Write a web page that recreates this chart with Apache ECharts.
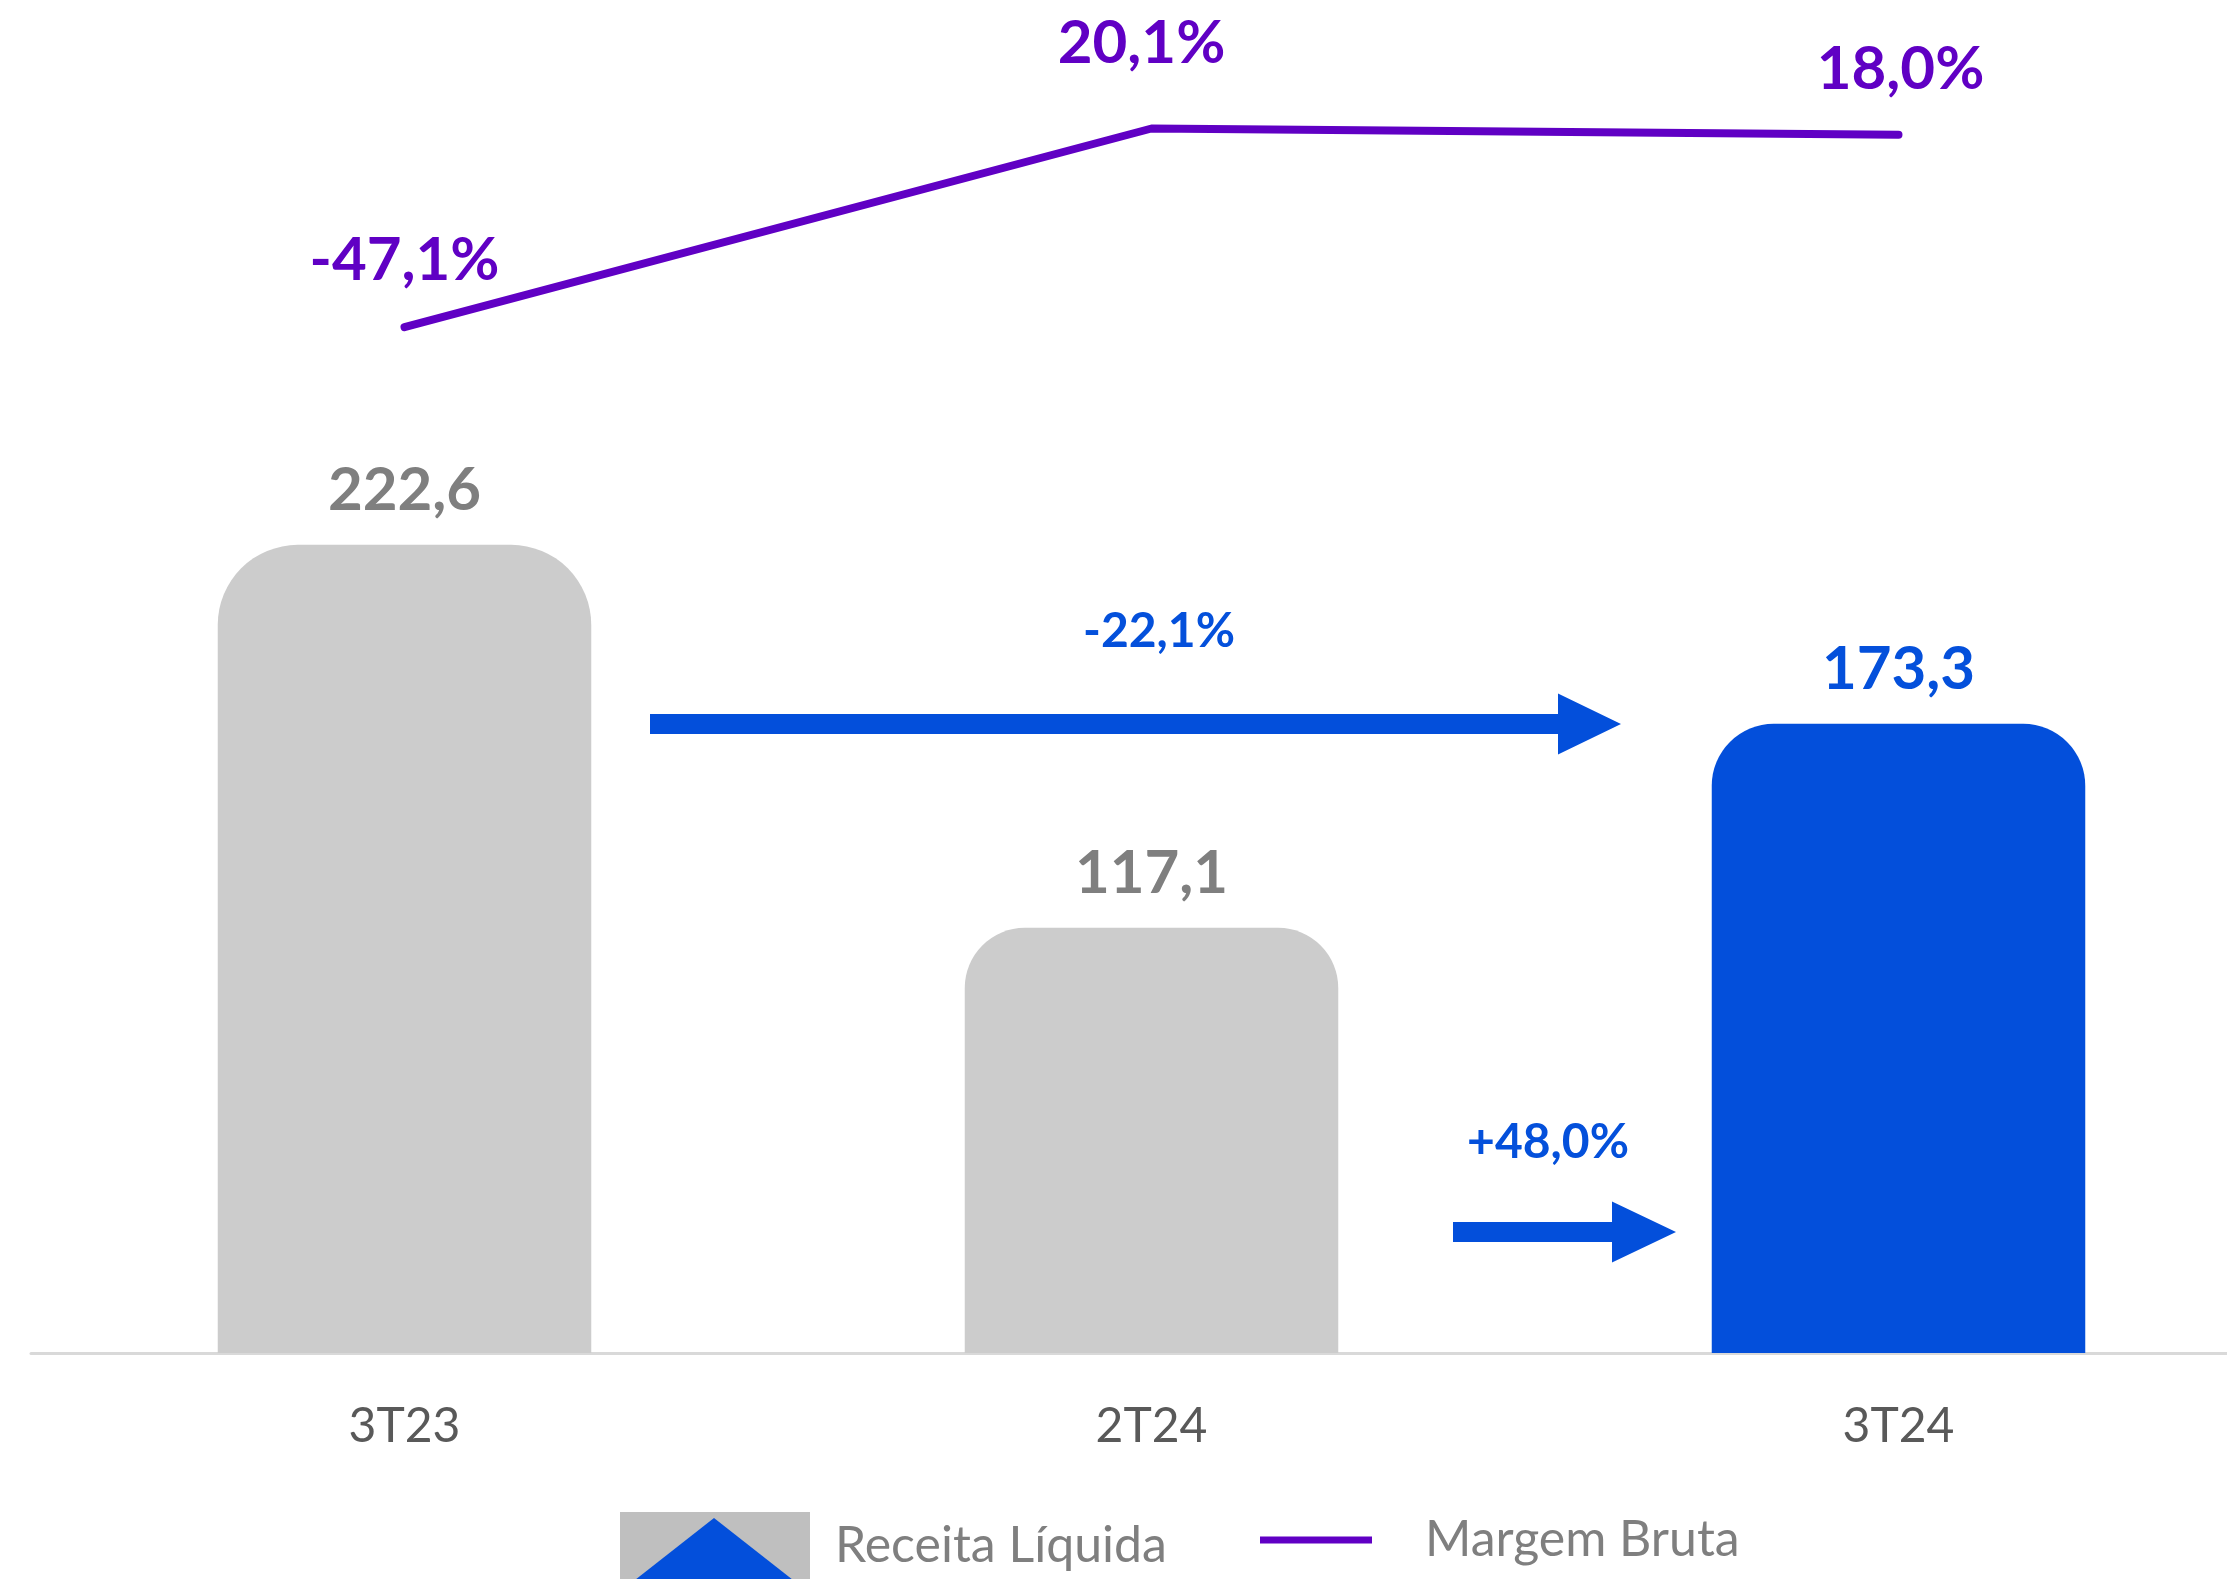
<!DOCTYPE html>
<html>
<head>
<meta charset="utf-8">
<title>Receita Líquida x Margem Bruta</title>
<script src="https://cdn.jsdelivr.net/npm/echarts@6/dist/echarts.min.js"></script>
<style>
  html, body { margin: 0; padding: 0; background: #fff; overflow: hidden; }
  /* a terceira categoria fica cortada na borda direita, como no original */
  #chart { width: 2272px; height: 1579px; }
</style>
</head>
<body>
<div id="chart"></div>
<script>
// dados do gráfico
const categories = ['3T23', '2T24', '3T24']
const receitaLiquida = [222.6, 117.1, 173.3]
const margemBruta = [-47.1, 20.1, 18.0]
const variacoes = ['-22,1%', '+48,0%']

const GRAY = '#CCCCCC'
const BLUE = '#034FDB'
const PURPLE = '#6000C4'
const FONT = 'Lato'

const fmt = v => v.toFixed(1).replace('.', ',')

// estilo por barra (ultima em azul)
const barColors = [GRAY, GRAY, BLUE]
const barRadius = [80, 60, 62]
const barLabelColors = ['#7F7F7F', '#7F7F7F', '#0450DB']

// posicao dos rotulos da linha
const lineLabelDistance = [36, 54, 34]
const lineLabelOffsetX = [0, -10, 2]

// seta horizontal (anotacao)
function arrow(x0, x1, yc, shaft, headLen, headH) {
  const h = shaft / 2
  const hh = headH / 2
  return [
    [x0, yc - h], [x1 - headLen, yc - h], [x1 - headLen, yc - hh],
    [x1, yc], [x1 - headLen, yc + hh], [x1 - headLen, yc + h], [x0, yc + h]
  ]
}

const chart = echarts.init(document.getElementById('chart'))

chart.setOption({
  animation: false,
  backgroundColor: '#fff',
  grid: {
    left: 31,
    right: 0,
    top: 46,
    bottom: 226
  },
  xAxis: {
    type: 'category',
    data: categories,
    axisLine: { lineStyle: { color: '#D9D9D9', width: 3 } },
    axisTick: { show: false },
    axisLabel: {
      color: '#595959',
      fontSize: 48,
      fontFamily: FONT,
      margin: 50
    }
  },
  yAxis: [
    { type: 'value', min: 0, max: 360, show: false, splitLine: { show: false } },
    { type: 'value', min: -394, max: 48, show: false, splitLine: { show: false } }
  ],
  legend: [
    {
      data: ['Receita Líquida'],
      left: 620,
      top: 1512,
      padding: 0,
      itemWidth: 190,
      itemHeight: 67,
      icon: 'rect',
      textStyle: { color: '#7F7F7F', fontSize: 50, fontFamily: FONT, padding: [0, 0, 0, 20] }
    },
    {
      data: ['Margem Bruta'],
      left: 1260,
      top: 1515,
      padding: 0,
      itemWidth: 112,
      itemHeight: 7,
      icon: 'rect',
      textStyle: { color: '#7F7F7F', fontSize: 50, fontFamily: FONT, padding: [0, 0, 0, 48] }
    }
  ],
  graphic: [
    // triangulo azul do icone da legenda
    { type: 'polygon', z: 100, shape: { points: [[714, 1518], [635, 1580], [793, 1580]] }, style: { fill: BLUE } },
    { type: 'polygon', shape: { points: arrow(650, 1621, 724, 20, 63, 61) }, style: { fill: BLUE } },
    { type: 'polygon', shape: { points: arrow(1453, 1676, 1232, 20, 64, 61) }, style: { fill: BLUE } },
    {
      type: 'text', x: 1159, y: 632,
      style: { text: variacoes[0], fill: '#0450DB', font: 'bold 48px ' + FONT, textAlign: 'center', textVerticalAlign: 'middle' }
    },
    {
      type: 'text', x: 1548, y: 1143,
      style: { text: variacoes[1], fill: '#0450DB', font: 'bold 48px ' + FONT, textAlign: 'center', textVerticalAlign: 'middle' }
    }
  ],
  series: [
    {
      name: 'Receita Líquida',
      type: 'bar',
      barWidth: '50%',
      itemStyle: { color: '#BFBFBF' },
      data: receitaLiquida.map((v, i) => ({
        value: v,
        itemStyle: { color: barColors[i], borderRadius: [barRadius[i], barRadius[i], 0, 0] },
        label: { color: barLabelColors[i] }
      })),
      label: {
        show: true,
        position: 'top',
        distance: 24,
        fontSize: 60,
        fontWeight: 'bold',
        fontFamily: FONT,
        formatter: p => fmt(p.value)
      }
    },
    {
      name: 'Margem Bruta',
      type: 'line',
      yAxisIndex: 1,
      symbol: 'circle',
      symbolSize: 2,
      itemStyle: { color: PURPLE },
      lineStyle: { color: PURPLE, width: 8, cap: 'round', join: 'round' },
      data: margemBruta.map((v, i) => ({
        value: v,
        label: { distance: lineLabelDistance[i], offset: [lineLabelOffsetX[i], 0] }
      })),
      label: {
        show: true,
        position: 'top',
        color: PURPLE,
        fontSize: 60,
        fontWeight: 'bold',
        fontFamily: FONT,
        formatter: p => fmt(p.value) + '%'
      },
      z: 5
    }
  ]
})
</script>
</body>
</html>
